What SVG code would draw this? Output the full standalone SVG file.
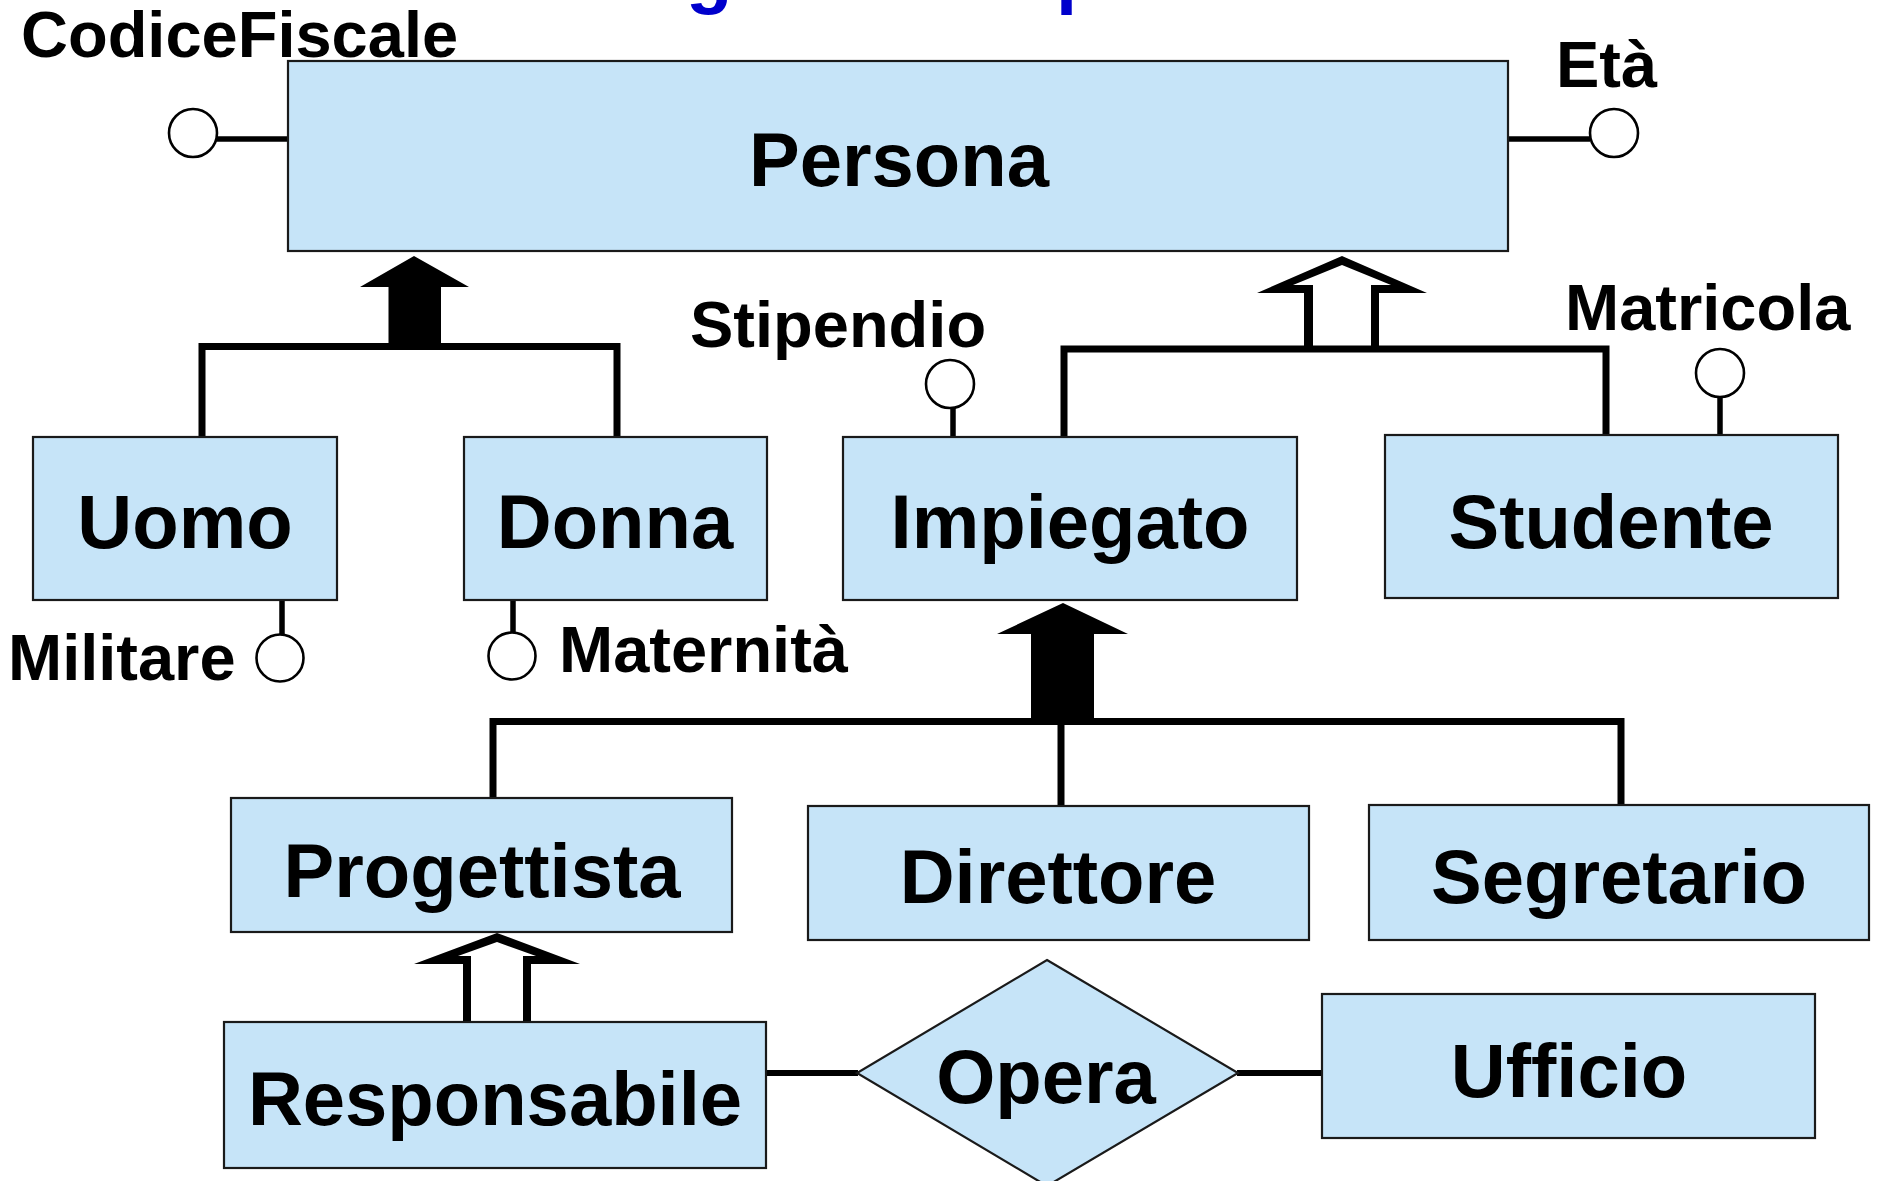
<svg xmlns="http://www.w3.org/2000/svg" width="1880" height="1181" viewBox="0 0 1880 1181">
  <style>
    .entity { fill: #C6E4F8; stroke: #1a1a1a; stroke-width: 2.2; }
    .rel { fill: #C6E4F8; stroke: #1a1a1a; stroke-width: 2.2; }
    .name { font-family: "Liberation Sans", Arial, sans-serif; font-weight: bold; font-size: 76px; fill: #000; text-anchor: middle; }
    .attr-label { font-family: "Liberation Sans", Arial, sans-serif; font-weight: bold; font-size: 65px; fill: #000; }
    .title { font-family: "Liberation Sans", Arial, sans-serif; font-weight: bold; font-size: 76px; fill: #0000CC; }
    .attr-dot { fill: #fff; stroke: #000; stroke-width: 2.6; }
    .attr-line { stroke: #000; stroke-width: 5.5; fill: none; }
    .isa { stroke: #000; stroke-width: 7; fill: none; stroke-linejoin: miter; }
    .link { stroke: #000; stroke-width: 6; fill: none; }
    .arrow-solid { fill: #000; }
    .arrow-hollow { fill: #000; fill-rule: evenodd; }
  </style>

  <rect x="0" y="0" width="1880" height="1181" fill="#fff"/>

  <!-- heading, mostly above the top edge -->
  <text class="title" x="686" y="-1">g</text>
  <text class="title" x="1056" y="-1">p</text>

  <!-- connectors: generalisations, attribute stems, relationship links -->
  <g id="connectors">
    <!-- Persona <- Uomo, Donna (total) -->
    <polyline class="isa" points="202,437 202,346.5 617,346.5 617,437"/>
    <polygon class="arrow-solid" points="388.5,347 388.5,287 360,287 414,256 469,287 441,287 441,347"/>

    <!-- Persona <- Impiegato, Studente (partial) -->
    <polyline class="isa" points="1064,437 1064,349 1606,349 1606,435"/>
    <path class="arrow-hollow" d="M1304,350 L1304,293 L1257,293 L1342,256 L1427,293 L1379,293 L1379,350 Z M1313,346 L1313,285 L1293,285 L1342,265 L1391,285 L1371,285 L1371,346 Z"/>

    <!-- Impiegato <- Progettista, Direttore, Segretario (total) -->
    <polyline class="isa" points="493,798 493,721.5 1621,721.5 1621,805"/>
    <line class="isa" x1="1061" y1="721" x2="1061" y2="806"/>
    <polygon class="arrow-solid" points="1031,722 1031,634 997,634 1063,603 1128,634 1094,634 1094,722"/>

    <!-- Progettista <- Responsabile (partial) -->
    <path class="arrow-hollow" d="M463,1022 L463,964 L414,964 L497,933 L580,964 L531,964 L531,1022 Z M471,1022 L471,956 L458,956 L497,942 L536,956 L523,956 L523,1022 Z"/>

    <!-- Opera links -->
    <line class="link" x1="766" y1="1073" x2="858" y2="1073"/>
    <line class="link" x1="1237" y1="1073" x2="1323" y2="1073"/>

    <!-- attribute stems -->
    <line class="attr-line" x1="216" y1="139" x2="289" y2="139"/>
    <line class="attr-line" x1="1507" y1="139" x2="1590" y2="139"/>
    <line class="attr-line" x1="282" y1="600" x2="282" y2="635"/>
    <line class="attr-line" x1="513" y1="600" x2="513" y2="633"/>
    <line class="attr-line" x1="953" y1="408" x2="953" y2="437"/>
    <line class="attr-line" x1="1720" y1="397" x2="1720" y2="435"/>
  </g>

  <!-- entities -->
  <g id="persona">
    <rect class="entity" x="288" y="61" width="1220" height="190"/>
    <text class="name" x="899" y="186">Persona</text>
    <circle class="attr-dot" cx="193" cy="133" r="24"/>
    <text class="attr-label" x="21" y="57">CodiceFiscale</text>
    <circle class="attr-dot" cx="1614" cy="133" r="24"/>
    <text class="attr-label" x="1556" y="87">Età</text>
  </g>

  <g id="uomo">
    <rect class="entity" x="33" y="437" width="304" height="163"/>
    <text class="name" x="185" y="548">Uomo</text>
    <circle class="attr-dot" cx="280" cy="658" r="23.5"/>
    <text class="attr-label" x="8" y="680">Militare</text>
  </g>

  <g id="donna">
    <rect class="entity" x="464" y="437" width="303" height="163"/>
    <text class="name" x="615" y="548">Donna</text>
    <circle class="attr-dot" cx="512" cy="656" r="23.5"/>
    <text class="attr-label" x="559" y="672">Maternità</text>
  </g>

  <g id="impiegato">
    <rect class="entity" x="843" y="437" width="454" height="163"/>
    <text class="name" x="1070" y="548">Impiegato</text>
    <circle class="attr-dot" cx="950" cy="384" r="24"/>
    <text class="attr-label" x="690" y="347">Stipendio</text>
  </g>

  <g id="studente">
    <rect class="entity" x="1385" y="435" width="453" height="163"/>
    <text class="name" x="1611" y="548">Studente</text>
    <circle class="attr-dot" cx="1720" cy="373" r="24"/>
    <text class="attr-label" x="1565" y="330">Matricola</text>
  </g>

  <g id="progettista">
    <rect class="entity" x="231" y="798" width="501" height="134"/>
    <text class="name" x="482" y="897">Progettista</text>
  </g>

  <g id="direttore">
    <rect class="entity" x="808" y="806" width="501" height="134"/>
    <text class="name" x="1058" y="903">Direttore</text>
  </g>

  <g id="segretario">
    <rect class="entity" x="1369" y="805" width="500" height="135"/>
    <text class="name" x="1619" y="903">Segretario</text>
  </g>

  <g id="responsabile">
    <rect class="entity" x="224" y="1022" width="542" height="146"/>
    <text class="name" x="495" y="1125">Responsabile</text>
  </g>

  <g id="opera">
    <polygon class="rel" points="1047,960 1238,1073 1047,1186 857,1073"/>
    <text class="name" x="1046" y="1103">Opera</text>
  </g>

  <g id="ufficio">
    <rect class="entity" x="1322" y="994" width="493" height="144"/>
    <text class="name" x="1569" y="1097">Ufficio</text>
  </g>
</svg>
